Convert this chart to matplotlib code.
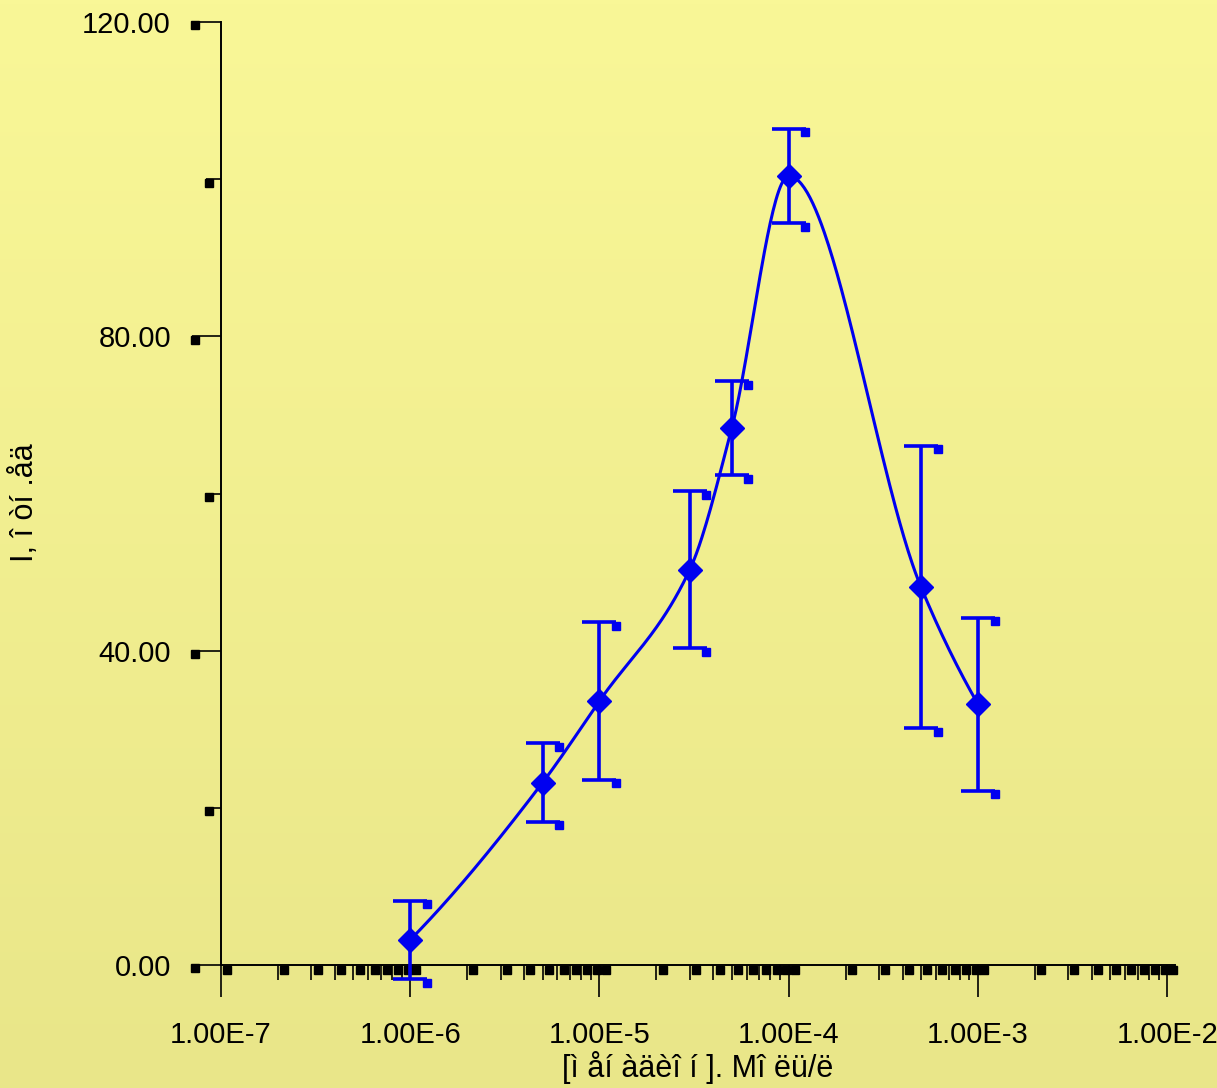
import numpy as np
import matplotlib
matplotlib.use("Agg")
import matplotlib.pyplot as plt
from matplotlib.transforms import offset_copy
from matplotlib.ticker import LogLocator, FixedLocator, NullFormatter

# ---- data ----
conc = [1e-6, 5e-6, 1e-5, 3e-5, 5e-5, 1e-4, 5e-4, 1e-3]
intensity = [3.2, 23.2, 33.6, 50.3, 68.3, 100.4, 48.1, 33.2]
err = [5.0, 5.0, 10.0, 10.0, 6.0, 6.0, 18.0, 11.0]
xticks = [1e-7, 1e-6, 1e-5, 1e-4, 1e-3, 1e-2]
xticklabels = ["1.00E-7", "1.00E-6", "1.00E-5", "1.00E-4", "1.00E-3", "1.00E-2"]
yticks = [0, 40, 80, 120]
yticklabels = ["0.00", "40.00", "80.00", "120.00"]
yminor = [20, 60, 100]
xlabel = "[ì åí àäèî í ]. Mî ëü/ë"
ylabel = "I, î òí .åä"

BLUE = "#0000f0"
FONT = ["Liberation Sans Narrow", "Liberation Sans", "DejaVu Sans"]
plt.rcParams["font.family"] = FONT


def pchip(x, y, xs):
    x = np.asarray(x, float); y = np.asarray(y, float)
    n = len(x)
    h = np.diff(x)
    delta = np.diff(y) / h
    d = np.zeros(n)
    for k in range(1, n - 1):
        if delta[k - 1] * delta[k] > 0:
            w1 = 2 * h[k] + h[k - 1]
            w2 = h[k] + 2 * h[k - 1]
            d[k] = (w1 + w2) / (w1 / delta[k - 1] + w2 / delta[k])
    d[0] = ((2 * h[0] + h[1]) * delta[0] - h[0] * delta[1]) / (h[0] + h[1])
    if np.sign(d[0]) != np.sign(delta[0]):
        d[0] = 0
    d[-1] = ((2 * h[-1] + h[-2]) * delta[-1] - h[-1] * delta[-2]) / (h[-1] + h[-2])
    if np.sign(d[-1]) != np.sign(delta[-1]):
        d[-1] = 0
    idx = np.clip(np.searchsorted(x, xs) - 1, 0, n - 2)
    t = (xs - x[idx]) / h[idx]
    h00 = 2 * t**3 - 3 * t**2 + 1
    h10 = t**3 - 2 * t**2 + t
    h01 = -2 * t**3 + 3 * t**2
    h11 = t**3 - t**2
    return (h00 * y[idx] + h10 * h[idx] * d[idx]
            + h01 * y[idx + 1] + h11 * h[idx] * d[idx + 1])


fig = plt.figure(figsize=(12.17, 10.88), dpi=100)

# gradient background
bg = fig.add_axes([0, 0, 1, 1], zorder=-10)
grad = np.linspace(0, 1, 256)[:, None]
top = np.array([249, 247, 151]) / 255
bot = np.array([233, 230, 137]) / 255
img = top[None, None, :] * (1 - grad[:, :, None]) + bot[None, None, :] * grad[:, :, None]
bg.imshow(img, aspect="auto", extent=[0, 1, 0, 1])
bg.axis("off")

ax = fig.add_axes([221 / 1217, 1 - 965 / 1088, (1175 - 221) / 1217, (965 - 22) / 1088])
ax.patch.set_alpha(0)
ax.set_xscale("log")
ax.set_xlim(1e-7, 1.1e-2)
ax.set_ylim(0, 120)

for s in ["top", "right"]:
    ax.spines[s].set_visible(False)
for s in ["left", "bottom"]:
    ax.spines[s].set_linewidth(1.4)

ax.set_xticks(xticks)
ax.set_xticklabels(xticklabels)
ax.xaxis.set_minor_locator(LogLocator(base=10, subs=np.arange(2, 10), numticks=20))
ax.xaxis.set_minor_formatter(NullFormatter())
ax.set_yticks(yticks)
ax.set_yticklabels(yticklabels)
ax.yaxis.set_minor_locator(FixedLocator(yminor))

ax.tick_params(axis="x", which="major", direction="out", length=23, width=1.2, pad=17, labelsize=21)
ax.tick_params(axis="x", which="minor", direction="out", length=11, width=1.2)
ax.tick_params(axis="y", which="major", direction="out", length=21, width=1.2, pad=15, labelsize=21)
ax.tick_params(axis="y", which="minor", direction="out", length=11, width=1.2)

# small square artefacts at tick ends
xt = ax.get_xaxis_transform()
xmin_locs = [v for v in ax.xaxis.get_minorticklocs() if 1e-7 <= v <= 1.1e-2]
xall = list(xmin_locs) + [v for v in xticks]
sq_tr_x = offset_copy(xt, fig=fig, x=4.5, y=-3.5, units="points")
ax.plot(xall, [0] * len(xall), "s", color="black", ms=5.5, transform=sq_tr_x, clip_on=False)
yt = ax.get_yaxis_transform()
sq_tr_ymaj = offset_copy(yt, fig=fig, x=-19, y=-2.5, units="points")
ax.plot([0] * len(yticks), yticks, "s", color="black", ms=5.5, transform=sq_tr_ymaj, clip_on=False)
sq_tr_ymin = offset_copy(yt, fig=fig, x=-9, y=-2.5, units="points")
ax.plot([0] * len(yminor), yminor, "s", color="black", ms=5.5, transform=sq_tr_ymin, clip_on=False)

# smooth curve
lx = np.log10(conc)
xs = np.linspace(lx[0], lx[-1], 400)
ys = pchip(lx, intensity, xs)
ax.plot(10 ** xs, ys, color=BLUE, lw=2.2, zorder=3)

# error bars
ax.errorbar(conc, intensity, yerr=err, fmt="none", ecolor=BLUE, elinewidth=2.6,
            capsize=12, capthick=2.6, zorder=4, clip_on=False)
ax.plot(conc, intensity, "D", color=BLUE, ms=12, zorder=5, clip_on=False)
# square artefacts at cap ends
hi = [i + e for i, e in zip(intensity, err)]
lo = [i - e for i, e in zip(intensity, err)]
cap_tr = offset_copy(ax.transData, fig=fig, x=12, y=-2.5, units="points")
ax.plot(conc + conc, hi + lo, "s", color=BLUE, ms=6, transform=cap_tr, zorder=4, clip_on=False)

ax.set_xlabel(xlabel, fontsize=22, labelpad=2)
ax.set_ylabel(ylabel, fontsize=22)
ax.yaxis.set_label_coords(-0.19, 0.49)

fig.savefig("out.png", dpi=100)
